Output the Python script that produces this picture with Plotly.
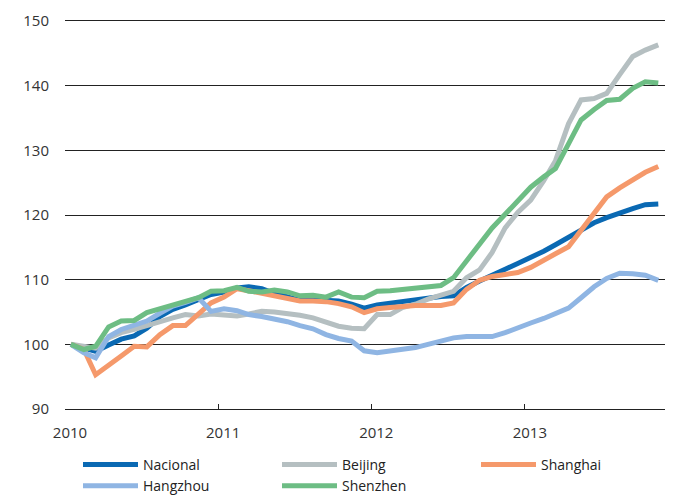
import plotly.graph_objects as go

months = [f"{2010 + k // 12}-{k % 12 + 1:02d}-15" for k in range(47)]

nacional = [100, 99.4, 98.9, 99.9, 100.8, 101.3, 102.5, 104.3, 105.4, 106.1, 107.0, 107.7,
            108.1, 108.7, 108.9, 108.6, 107.9, 107.3, 106.8, 106.9, 106.8, 106.7, 106.2, 105.6,
            106.1, 106.4, 106.7, 107.0, 107.1, 107.4, 107.5, 108.8, 109.8, 110.6, 111.6, 112.5,
            113.4, 114.4, 115.4, 116.6, 117.8, 118.8, 119.6, 120.4, 121.0, 121.6, 121.7]
beijing = [100, 99.7, 99.4, 101.0, 101.8, 102.3, 102.9, 103.6, 104.1, 104.6, 104.4, 104.7,
           104.5, 104.4, 104.7, 105.1, 105.0, 104.8, 104.5, 104.1, 103.4, 102.8, 102.5, 102.4,
           104.6, 104.6, 105.7, 106.2, 107.0, 107.7, 108.2, 110.3, 111.5, 114.2, 118.0, 120.4,
           122.3, 125.3, 128.4, 134.1, 137.8, 138.0, 138.8, 141.7, 144.5, 145.5, 146.3]
shanghai = [100, 99.2, 95.3, 96.7, 98.2, 99.7, 99.6, 101.5, 102.9, 102.9, 104.8, 106.4,
            107.3, 108.6, 108.3, 107.9, 107.6, 107.1, 106.7, 106.7, 106.6, 106.3, 105.8, 104.9,
            105.5, 105.7, 105.9, 106.0, 106.0, 106.0, 106.4, 108.5, 109.9, 110.5, 110.8, 111.1,
            111.9, 112.9, 114.0, 115.1, 117.6, 120.3, 122.8, 124.2, 125.4, 126.6, 127.5]
hangzhou = [100, 98.7, 97.9, 101.2, 102.3, 103.0, 103.6, 104.8, 105.9, 106.5, 107.2, 105.1,
            105.5, 105.2, 104.6, 104.3, 104.0, 103.5, 102.9, 102.4, 101.5, 100.9, 100.5, 99.0,
            98.7, 99.0, 99.3, 99.5, 100.0, 100.5, 101.0, 101.2, 101.2, 101.2, 101.8, 102.6,
            103.3, 104.0, 104.8, 105.6, 107.2, 108.9, 110.2, 111.0, 110.9, 110.7, 109.9]
shenzhen = [100, 99.2, 99.7, 102.7, 103.6, 103.7, 104.9, 105.5, 106.1, 106.6, 107.2, 108.2,
            108.3, 108.8, 108.2, 108.1, 108.4, 108.1, 107.5, 107.6, 107.3, 108.1, 107.3, 107.2,
            108.2, 108.3, 108.5, 108.6, 108.9, 109.1, 110.3, 112.9, 115.7, 118.0, 120.1, 122.3,
            124.3, 125.9, 127.2, 131.0, 134.7, 136.3, 137.7, 137.9, 139.6, 140.6, 140.4]

series = [
    ("Nacional", nacional, "#0a69b3"),
    ("Beijing", beijing, "#b5bfc1"),
    ("Shanghai", shanghai, "#f5996b"),
    ("Hangzhou", hangzhou, "#8fb5e3"),
    ("Shenzhen", shenzhen, "#6dbd84"),
]

year_ticks = ["2010-01-01", "2011-01-01", "2012-01-01", "2013-01-01"]
year_labels = ["2010", "2011", "2012", "2013"]

FONT = "Open Sans"
# the page body has an 8px default margin, so the figure is sized to fit the window
W, H = 667, 489

fig = go.Figure()
for name, vals, col in series:
    fig.add_trace(go.Scatter(
        x=months, y=vals, name=name, mode="lines",
        line=dict(color=col, width=5),
    ))

fig.update_layout(
    width=W, height=H,
    margin=dict(l=57, r=10, t=13, b=88, autoexpand=False),
    paper_bgcolor="white", plot_bgcolor="white",
    font=dict(family=FONT, size=15, color="#333333"),
    showlegend=True,
    legend=dict(
        orientation="h", xref="container", yref="container",
        x=70 / W, y=1 - 441 / H, xanchor="left", yanchor="top",
        entrywidth=129, entrywidthmode="pixels", itemwidth=55,
        font=dict(family=FONT, size=14, color="#222222"),
        bgcolor="rgba(0,0,0,0)",
    ),
)
fig.update_xaxes(
    type="date", range=["2010-01-01", "2013-12-01"],
    tickvals=year_ticks, ticktext=year_labels,
    ticks="inside", ticklen=5, tickcolor="#222222", tickwidth=1,
    showline=True, linecolor="#222222", linewidth=1, mirror=True,
    showgrid=False, zeroline=False,
    ticklabelstandoff=10, ticklabelshift=5,
    tickfont=dict(family=FONT, size=15, color="#333333"),
)
fig.update_yaxes(
    range=[90, 150], dtick=10, tick0=90,
    showgrid=True, gridcolor="#222222", gridwidth=1,
    showline=False, zeroline=False, ticks="",
    ticklabelstandoff=15,
    tickfont=dict(family=FONT, size=15, color="#333333"),
)

fig.write_html("out.html")
